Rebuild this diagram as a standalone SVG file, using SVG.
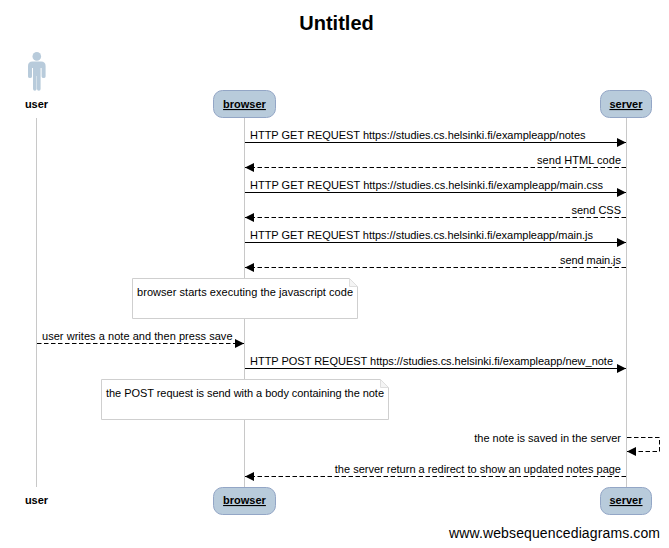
<svg xmlns="http://www.w3.org/2000/svg" width="669" height="548" viewBox="0 0 669 548">
<style>
text{font-family:"Liberation Sans",Arial,sans-serif;font-size:11px;fill:#000}
.a{font-weight:bold;text-anchor:middle}
.u{text-decoration:underline}
.e{text-anchor:end}
.box{fill:#b8cbdb;stroke:#93a6c6;stroke-width:1}
.life{stroke:#c8c8c8;stroke-width:1;fill:none}
.m{stroke:#000;stroke-width:1;fill:none}
.d{stroke-dasharray:4.500 2.500}
.note{fill:#fff;stroke:#cfcfcf;stroke-width:1}
.fold{fill:#f4f4f4;stroke:#dedede;stroke-width:1}
</style>
<defs>
<marker id="ah" markerUnits="userSpaceOnUse" markerWidth="9" markerHeight="10" viewBox="0 0 9 10" refX="9" refY="5" orient="auto"><path d="M0 0.500L9 5L0 9.500Z" fill="#000"/></marker>
</defs>
<rect width="669" height="548" fill="#fff"/>
<text x="336.500" y="30" text-anchor="middle" style="font-size:20px;font-weight:bold">Untitled</text>
<g id="lifelines">
<path class="life" d="M36.500 118V487M244.500 118V487M626.500 118V487"/>
</g>
<g id="user">
<circle cx="36.800" cy="56.400" r="4.300" fill="#b8cbdb"/>
<path d="M32.500 61.500h8.600q4.500 0 4.500 4.500v10.500q0 1.500-2 1.500t-2-1.500V68h-1v21q0 1.700-1.800 1.700t-1.800-1.700V76h-.4v13q-.2 1.700-1.800 1.700t-1.800-1.700V68h-1v8.500q0 1.500-2 1.500t-2-1.500V66q0-4.500 4.500-4.500Z" fill="#b8cbdb"/>
<text class="a" x="36.500" y="108">user</text>
</g>
<g id="user-bottom"><text class="a" x="36.500" y="504">user</text></g>
<g id="browser">
<rect class="box" x="213.500" y="90.500" width="62" height="27" rx="9"/>
<text class="a u" x="244.500" y="108">browser</text>
</g>
<g id="browser-bottom">
<rect class="box" x="213.500" y="487.500" width="62" height="27" rx="9"/>
<text class="a u" x="244.500" y="504">browser</text>
</g>
<g id="server">
<rect class="box" x="600.500" y="90.500" width="51" height="27" rx="9"/>
<text class="a u" x="626" y="108">server</text>
</g>
<g id="server-bottom">
<rect class="box" x="600.500" y="487.500" width="51" height="27" rx="9"/>
<text class="a u" x="626" y="504">server</text>
</g>
<g id="note1">
<path class="note" d="M132.500 278.500H349.500L357.500 286.500V318.500H132.500Z"/><path class="fold" d="M349.500 278.500V286.500H357.500Z"/>
<text x="137" y="296" textLength="216" lengthAdjust="spacing">browser starts executing the javascript code</text>
</g>
<g id="note2">
<path class="note" d="M101.500 379.500H380.500L388.500 387.500V419.500H101.500Z"/><path class="fold" d="M380.500 379.500V387.500H388.500Z"/>
<text x="106" y="397" textLength="278" lengthAdjust="spacing">the POST request is send with a body containing the note</text>
</g>
<g id="connectors">
<path class="m" marker-end="url(#ah)" d="M245 142.500H626"/>
<path class="m d" marker-end="url(#ah)" d="M626 167.500H245"/>
<path class="m" marker-end="url(#ah)" d="M245 192.500H626"/>
<path class="m d" marker-end="url(#ah)" d="M626 217.500H245"/>
<path class="m" marker-end="url(#ah)" d="M245 242.500H626"/>
<path class="m d" marker-end="url(#ah)" d="M626 267.500H245"/>
<path class="m d" marker-end="url(#ah)" d="M37 343.500H244"/>
<path class="m" marker-end="url(#ah)" d="M245 368.500H626"/>
<path class="m d" marker-end="url(#ah)" d="M627 437.500H659.500V451.500H627"/>
<path class="m d" marker-end="url(#ah)" d="M626 476.500H245"/>
</g>
<g id="labels">
<text x="250" y="139" textLength="335.500" lengthAdjust="spacing">HTTP GET REQUEST https://studies.cs.helsinki.fi/exampleapp/notes</text>
<text x="537" y="164" textLength="84" lengthAdjust="spacing">send HTML code</text>
<text x="250" y="189" textLength="353" lengthAdjust="spacing">HTTP GET REQUEST https://studies.cs.helsinki.fi/exampleapp/main.css</text>
<text class="e" x="621" y="214">send CSS</text>
<text x="250" y="239" textLength="343" lengthAdjust="spacing">HTTP GET REQUEST https://studies.cs.helsinki.fi/exampleapp/main.js</text>
<text x="560" y="264" textLength="61" lengthAdjust="spacing">send main.js</text>
<text x="42" y="340" textLength="190.500" lengthAdjust="spacing">user writes a note and then press save</text>
<text x="250" y="365" textLength="363" lengthAdjust="spacing">HTTP POST REQUEST https://studies.cs.helsinki.fi/exampleapp/new_note</text>
<text class="e" x="621" y="442">the note is saved in the server</text>
<text class="e" x="621" y="473">the server return a redirect to show an updated notes page</text>
</g>
<text x="449" y="538" textLength="211" lengthAdjust="spacing" style="font-size:14px">www.websequencediagrams.com</text>
</svg>
